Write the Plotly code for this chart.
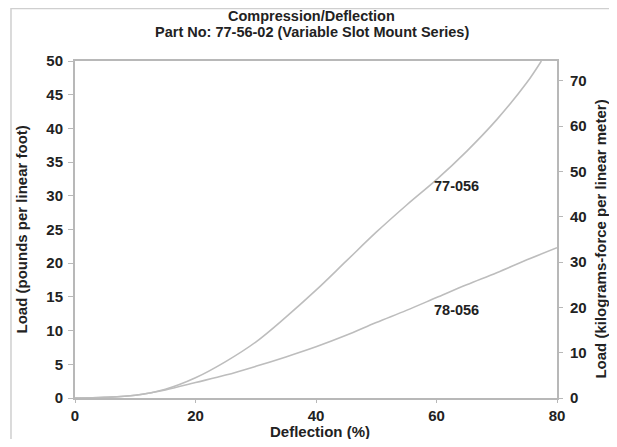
import plotly.graph_objects as go

deflection = [0, 5, 10, 15, 20, 25, 30, 35, 40, 45, 50, 55, 60, 65, 70, 75, 77.4]
load_77_056 = [0, 0.1, 0.4, 1.3, 3.0, 5.4, 8.3, 12.0, 16.0, 20.3, 24.6, 28.6, 32.4, 36.6, 41.3, 46.8, 50.0]

deflection_b = [0, 5, 10, 15, 20, 25, 30, 35, 40, 45, 50, 55, 60, 65, 70, 75, 80]
load_78_056 = [0, 0.1, 0.4, 1.2, 2.3, 3.4, 4.7, 6.1, 7.6, 9.3, 11.2, 13.0, 14.9, 16.8, 18.6, 20.5, 22.3]

x_ticks = [0, 20, 40, 60, 80]
left_ticks = [0, 5, 10, 15, 20, 25, 30, 35, 40, 45, 50]
right_ticks = [0, 10, 20, 30, 40, 50, 60, 70]
LB_FT_TO_KGF_M = 1.488

FONT = "Liberation Sans, Arial, sans-serif"
TXT = "#222222"
AX = "#b8b8b8"
FS = 15

fig = go.Figure()
fig.add_trace(go.Scatter(x=deflection, y=load_77_056, mode="lines",
                         line=dict(color="#bdbdbd", width=1.6, shape="spline"), showlegend=False))
fig.add_trace(go.Scatter(x=deflection_b, y=load_78_056, mode="lines",
                         line=dict(color="#bdbdbd", width=1.6, shape="spline"), showlegend=False))
fig.add_trace(go.Scatter(x=[0], y=[0], yaxis="y2", mode="markers",
                         marker=dict(opacity=0), showlegend=False, hoverinfo="skip"))

fig.add_annotation(x=63.3, y=31.5, text="<b>77-056</b>", showarrow=False,
                   font=dict(family=FONT, size=14.5, color=TXT))
fig.add_annotation(x=63.3, y=13.1, text="<b>78-056</b>", showarrow=False,
                   font=dict(family=FONT, size=14.5, color=TXT))

# title lines
fig.add_annotation(xref="paper", yref="paper", x=0.4917, y=1.1335, text="<b>Compression/Deflection</b>",
                   showarrow=False, xanchor="center", yanchor="middle",
                   font=dict(family=FONT, size=14.5, color=TXT))
fig.add_annotation(xref="paper", yref="paper", x=0.4917, y=1.0875,
                   text="<b>Part No: 77-56-02 (Variable Slot Mount Series)</b>",
                   showarrow=False, xanchor="center", yanchor="middle",
                   font=dict(family=FONT, size=14.5, color=TXT))
# axis titles
fig.add_annotation(xref="paper", yref="paper", x=0.508, y=-0.098, text="<b>Deflection (%)</b>",
                   showarrow=False, xanchor="center", yanchor="middle",
                   font=dict(family=FONT, size=FS, color=TXT))
fig.add_annotation(xref="paper", yref="paper", x=-0.110, y=0.5, text="<b>Load (pounds per linear foot)</b>",
                   showarrow=False, xanchor="center", yanchor="middle", textangle=-90,
                   font=dict(family=FONT, size=FS, color=TXT))
fig.add_annotation(xref="paper", yref="paper", x=1.0913, y=0.47,
                   text="<b>Load (kilograms-force per linear meter)</b>",
                   showarrow=False, xanchor="center", yanchor="middle", textangle=-90,
                   font=dict(family=FONT, size=FS, color=TXT))

# outer frame
fig.add_shape(type="rect", xref="paper", yref="paper",
              x0=-0.1328, y0=-1.0, x1=2.0, y1=1.1558,
              line=dict(color="#cfcfcf", width=1.5), fillcolor="rgba(0,0,0,0)", layer="below")

fig.update_layout(
    width=601, height=431,
    margin=dict(l=67, r=52, t=53, b=41, autoexpand=False),
    paper_bgcolor="white", plot_bgcolor="white",
    font=dict(family=FONT, size=FS, color=TXT),
    xaxis=dict(range=[0, 80], tickvals=x_ticks, ticktext=[f"<b>{v}</b>" for v in x_ticks],
               showgrid=False, zeroline=False, showline=True, linecolor=AX, linewidth=2,
               mirror=True, ticks="outside", ticklen=3, tickcolor=AX, ticklabelstandoff=0,
               tickfont=dict(family=FONT, size=FS, color=TXT)),
    yaxis=dict(range=[0, 50], tickvals=left_ticks, ticktext=[f"<b>{v}</b>" for v in left_ticks],
               showgrid=False, zeroline=False, showline=True, linecolor=AX, linewidth=2,
               mirror=True, ticks="outside", ticklen=5, tickcolor=AX, ticklabelstandoff=2,
               tickfont=dict(family=FONT, size=FS, color=TXT)),
    yaxis2=dict(range=[0, 50 * LB_FT_TO_KGF_M], overlaying="y", side="right",
                tickvals=right_ticks, ticktext=[f"<b>{v}</b>" for v in right_ticks],
                showgrid=False, zeroline=False, showline=False,
                ticks="outside", ticklen=5, tickcolor=AX, ticklabelstandoff=4,
                tickfont=dict(family=FONT, size=FS, color=TXT)),
)

fig.write_html("out.html")
